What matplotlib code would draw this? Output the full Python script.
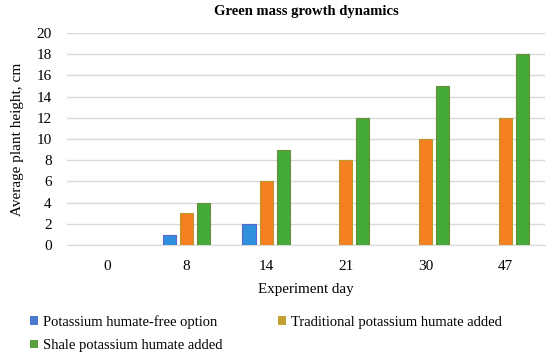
import matplotlib
matplotlib.use("Agg")
import matplotlib.pyplot as plt
import numpy as np
from matplotlib.patches import Patch

plt.rcParams['font.family'] = ['Liberation Serif', 'DejaVu Serif']

days = ["0", "8", "14", "21", "30", "47"]
free_option = [0, 1, 2, 0, 0, 0]
traditional = [0, 3, 6, 8, 10, 12]
shale = [0, 4, 9, 12, 15, 18]
series_names = ["Potassium humate-free option", "Traditional potassium humate added",
                "Shale potassium humate added"]
yticks = list(range(0, 21, 2))

fig = plt.figure(figsize=(5.5, 3.61), dpi=100)
ax = fig.add_axes([0.1218, 0.321, 0.869, 0.588])

x = np.arange(len(days))
w = 0.165
off = 0.215


def lw(vals):
    return [0.8 if v else 0 for v in vals]


ax.bar(x - off, free_option, w, color="#2f90de", edgecolor="#5a66c4", linewidth=lw(free_option), zorder=3)
ax.bar(x, traditional, w, color="#f5801f", edgecolor="#b9992c", linewidth=lw(traditional), zorder=3)
ax.bar(x + off, shale, w, color="#46aa3a", edgecolor="#6a8c3c", linewidth=lw(shale), zorder=3)

ax.set_xlim(-0.5, len(days) - 0.5)
ax.set_ylim(0, 20)
ax.set_yticks(yticks)
ax.set_xticks(x)
ax.set_xticklabels(days)
ax.grid(axis='y', color="#d9d9d9", linewidth=1, zorder=0)
for s in ["top", "right", "left"]:
    ax.spines[s].set_visible(False)
ax.spines["bottom"].set_color("#d9d9d9")
ax.tick_params(length=0, labelsize=11, colors="#000000")
ax.tick_params(axis='x', pad=11)
ax.tick_params(axis='y', pad=11)

ax.set_title("Green mass growth dynamics", fontsize=10.5, fontweight='bold', pad=13)
ax.set_xlabel("Experiment day", fontsize=10.8, labelpad=7)
ax.set_ylabel("Average plant height, cm", fontsize=11, labelpad=9)

colors_leg = {"free": "#4a78cc", "trad": "#c4a032", "shale": "#5b9e3e"}
handles = [Patch(facecolor=colors_leg["free"]), Patch(facecolor=colors_leg["shale"]),
           Patch(facecolor=colors_leg["trad"])]
labels = [series_names[0], series_names[2], series_names[1]]
leg = fig.legend(handles, labels, loc="lower left", bbox_to_anchor=(0.031, -0.012),
                 ncol=2, frameon=False, fontsize=10.5, handlelength=0.55, handleheight=0.55,
                 handletextpad=0.3, columnspacing=3.85, labelspacing=0.72)

fig.savefig("out.png", dpi=100)
